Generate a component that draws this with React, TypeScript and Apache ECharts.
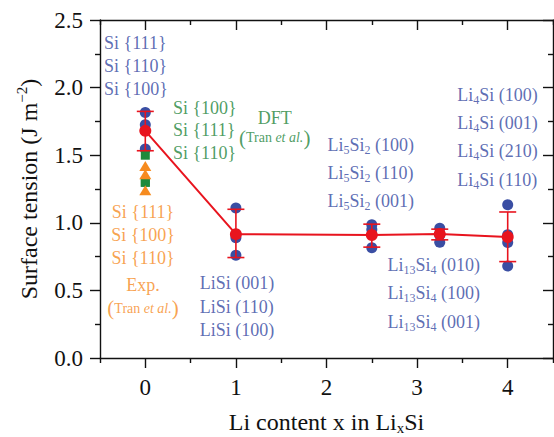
import React, { useEffect, useRef } from "react";
import * as echarts from "echarts";

const FONT = "Liberation Serif";
const BLUE = "#3a4ea3";
const BLUE_TEXT = "#34489f";
const RED = "#e8141e";
const GREEN = "#1f8a3c";
const GREEN_TEXT = "#22843a";
const ORANGE = "#f68b1f";
const AXIS = "#111111";

// Calculated facet surface tensions (J m^-2) per composition
const siFacets = [1.816, 1.726, 1.546]; // x = 0
const liSiFacets = [1.11, 0.89, 0.76]; // x = 1
const li5Si2Facets = [0.985, 0.95, 0.815]; // x = 2.5
const li13Si4Facets = [0.96, 0.91, 0.857]; // x = 3.25
const li4SiFacets = [1.133, 0.911, 0.854, 0.681]; // x = 4

// Averages with their spread
const compositions = [0, 1, 2.5, 3.25, 4];
const meanTension = [1.68, 0.916, 0.91, 0.918, 0.895];
const errLow = [1.533, 0.743, 0.82, 0.874, 0.713];
const errHigh = [1.824, 1.1, 0.99, 0.953, 1.08];

// Reference values for pure Si (Tran et al.)
const dftSi = [1.5, 1.3, 1.3];
const expSi = [1.42, 1.36, 1.24];

const xMajorTicks = [0, 1, 2, 3, 4];
const xMinorTicks = [-0.5, 0.5, 1.5, 2.5, 3.5, 4.5];

const tranRef = "{p|(}{t|Tran }{i|et al.}{p|)}";

const annotations = [
  { at: [-0.455, 2.163], align: "left", color: BLUE_TEXT, lineHeight: 23, text: ["Si {111}", "Si {110}", "Si {100}"] },
  { at: [0.305, 1.683], align: "left", color: GREEN_TEXT, lineHeight: 22.5, text: ["Si {100}", "Si {111}", "Si {110}"] },
  { at: [1.43, 1.775], align: "center", color: GREEN_TEXT, lineHeight: 22, text: ["DFT"] },
  { at: [1.428, 1.628], align: "center", color: GREEN_TEXT, lineHeight: 22, text: [tranRef] },
  { at: [-0.025, 0.911], align: "center", color: ORANGE, lineHeight: 23.3, text: ["Si {111}", "Si {100}", "Si {110}"] },
  { at: [-0.025, 0.456], align: "center", color: ORANGE, lineHeight: 23.5, text: ["Exp.", tranRef] },
  { at: [0.602, 0.38], align: "left", color: BLUE_TEXT, lineHeight: 23.3, text: ["LiSi (001)", "LiSi (110)", "LiSi (100)"] },
  { at: [2.012, 1.368], align: "left", color: BLUE_TEXT, lineHeight: 28, text: ["Li{s|5}Si{s|2} (100)", "Li{s|5}Si{s|2} (110)", "Li{s|5}Si{s|2} (001)"] },
  { at: [2.673, 0.479], align: "left", color: BLUE_TEXT, lineHeight: 28.3, text: ["Li{s|13}Si{s|4} (010)", "Li{s|13}Si{s|4} (100)", "Li{s|13}Si{s|4} (001)"] },
  { at: [3.444, 1.633], align: "left", color: BLUE_TEXT, lineHeight: 28.3, text: ["Li{s|4}Si (100)", "Li{s|4}Si (001)", "Li{s|4}Si (210)", "Li{s|4}Si (110)"] },
];

const at = (x: number, values: number[]) => values.map((v) => [x, v]);

export default function App() {
  const ref = useRef<HTMLDivElement>(null);

  useEffect(() => {
    if (!ref.current) return;
    const chart = echarts.init(ref.current, null, { renderer: "svg" });

    const gridRect = { left: 100, right: 1, top: 20, bottom: 79, containLabel: false, outerBoundsMode: "none" };
    const axisLine = { show: true, onZero: false, lineStyle: { color: AXIS, width: 1.4 } };
    const tickStyle = { color: AXIS, width: 1.4 };

    const richFor = (color: string) => ({
      s: { fontSize: 12, fontFamily: FONT, color, padding: [10, 0, 0, 0], lineHeight: 12 },
      p: { fontSize: 21, fontFamily: FONT, color },
      t: { fontSize: 14, fontFamily: FONT, color },
      i: { fontSize: 14, fontFamily: FONT, color, fontStyle: "italic" },
    });

    const blueFacets = [
      ...at(0, siFacets),
      ...at(1, liSiFacets),
      ...at(2.5, li5Si2Facets),
      ...at(3.25, li13Si4Facets),
      ...at(4, li4SiFacets),
    ];

    chart.setOption({
      animation: false,
      textStyle: { fontFamily: FONT },
      grid: [{ ...gridRect }, { ...gridRect }],
      xAxis: [
        {
          type: "value",
          gridIndex: 0,
          position: "bottom",
          min: -0.5,
          max: 4.5,
          axisLine,
          splitLine: { show: false },
          axisTick: { show: true, customValues: xMajorTicks, length: 10, lineStyle: tickStyle },
          axisLabel: { customValues: xMajorTicks, fontSize: 23, fontFamily: FONT, color: AXIS, margin: 17.5 },
          name: "Li content x in Li{sub|x}Si",
          nameLocation: "middle",
          nameGap: 52,
          nameTextStyle: {
            fontSize: 24,
            fontFamily: FONT,
            color: AXIS,
            rich: { sub: { fontSize: 15, fontFamily: FONT, color: AXIS, padding: [11, 0, 0, 0], lineHeight: 15 } },
          },
        },
        {
          type: "value",
          gridIndex: 0,
          position: "top",
          min: -0.5,
          max: 4.5,
          axisLine,
          splitLine: { show: false },
          axisTick: { show: true, inside: true, customValues: xMajorTicks, length: 10, lineStyle: tickStyle },
          axisLabel: { show: false, customValues: xMajorTicks },
        },
        {
          type: "value",
          gridIndex: 1,
          position: "bottom",
          min: -0.5,
          max: 4.5,
          axisLine: { show: false },
          splitLine: { show: false },
          axisTick: { show: true, customValues: xMinorTicks, length: 5, lineStyle: tickStyle },
          axisLabel: { show: false, customValues: xMinorTicks },
        },
        {
          type: "value",
          gridIndex: 1,
          position: "top",
          min: -0.5,
          max: 4.5,
          axisLine: { show: false },
          splitLine: { show: false },
          axisTick: { show: true, inside: true, customValues: xMinorTicks, length: 5, lineStyle: tickStyle },
          axisLabel: { show: false, customValues: xMinorTicks },
        },
      ],
      yAxis: [
        {
          type: "value",
          gridIndex: 0,
          position: "left",
          min: 0,
          max: 2.5,
          interval: 0.5,
          axisLine,
          splitLine: { show: false },
          axisTick: { show: true, length: 10, lineStyle: tickStyle },
          minorTick: { show: true, splitNumber: 2, length: 5, lineStyle: tickStyle },
          minorSplitLine: { show: false },
          axisLabel: {
            fontSize: 23,
            fontFamily: FONT,
            color: AXIS,
            margin: 17,
            formatter: (v: number) => v.toFixed(1),
          },
          name: "{n|Surface tension (J m}{sup|\u22122}{n|)}",
          nameLocation: "middle",
          nameGap: 59,
          nameTextStyle: {
            fontSize: 24,
            fontFamily: FONT,
            color: AXIS,
            rich: {
              n: { fontSize: 24, fontFamily: FONT, color: AXIS },
              sup: { fontSize: 15, fontFamily: FONT, color: AXIS, padding: [0, 0, 14, 0], lineHeight: 15 },
            },
          },
        },
        {
          type: "value",
          gridIndex: 0,
          position: "right",
          min: 0,
          max: 2.5,
          interval: 0.5,
          axisLine,
          splitLine: { show: false },
          axisTick: { show: true, inside: true, length: 10, lineStyle: tickStyle },
          minorTick: { show: true, splitNumber: 2, length: 5, lineStyle: tickStyle },
          minorSplitLine: { show: false },
          axisLabel: { show: false },
        },
        {
          type: "value",
          gridIndex: 1,
          min: 0,
          max: 2.5,
          show: false,
        },
      ],
      series: [
        {
          name: "Facets",
          type: "scatter",
          xAxisIndex: 0,
          yAxisIndex: 0,
          data: blueFacets,
          symbol: "circle",
          symbolSize: 11,
          itemStyle: { color: BLUE, opacity: 1 },
          z: 2,
        },
        {
          name: "DFT (Tran et al.)",
          type: "scatter",
          xAxisIndex: 0,
          yAxisIndex: 0,
          data: at(0, dftSi),
          symbol: "rect",
          symbolSize: 9,
          itemStyle: { color: GREEN, opacity: 1 },
          z: 2,
        },
        {
          name: "Exp. (Tran et al.)",
          type: "scatter",
          xAxisIndex: 0,
          yAxisIndex: 0,
          data: at(0, expSi),
          symbol: "triangle",
          symbolSize: [12, 10],
          itemStyle: { color: ORANGE, opacity: 1 },
          z: 3,
        },
        {
          name: "Spread",
          type: "custom",
          xAxisIndex: 0,
          yAxisIndex: 0,
          data: compositions.map((x, i) => [x, errLow[i], errHigh[i]]),
          encode: { x: 0, y: [1, 2] },
          z: 4,
          renderItem: (_params: any, api: any) => {
            const x = api.value(0);
            const lo = api.coord([x, api.value(1)]);
            const hi = api.coord([x, api.value(2)]);
            const hw = 8.5;
            const style = { stroke: RED, lineWidth: 1.6 };
            return {
              type: "group",
              children: [
                { type: "line", shape: { x1: lo[0], y1: lo[1], x2: hi[0], y2: hi[1] }, style },
                { type: "line", shape: { x1: lo[0] - hw, y1: lo[1], x2: lo[0] + hw, y2: lo[1] }, style },
                { type: "line", shape: { x1: hi[0] - hw, y1: hi[1], x2: hi[0] + hw, y2: hi[1] }, style },
              ],
            };
          },
        },
        {
          name: "Average",
          type: "line",
          xAxisIndex: 0,
          yAxisIndex: 0,
          data: compositions.map((x, i) => [x, meanTension[i]]),
          symbol: "circle",
          symbolSize: 12,
          showSymbol: true,
          itemStyle: { color: RED },
          lineStyle: { color: RED, width: 2 },
          z: 5,
        },
        {
          name: "Labels",
          type: "scatter",
          xAxisIndex: 0,
          yAxisIndex: 0,
          silent: true,
          symbolSize: 0,
          itemStyle: { color: "rgba(0,0,0,0)" },
          z: 6,
          data: annotations.map((a) => ({
            value: a.at,
            label: {
              show: true,
              position: [0, 0],
              align: a.align,
              verticalAlign: "middle",
              color: a.color,
              fontSize: 18,
              fontFamily: FONT,
              lineHeight: a.lineHeight,
              formatter: () => a.text.join("\n"),
              rich: richFor(a.color),
            },
          })),
        },
      ],
    });

    return () => chart.dispose();
  }, []);

  return (
    <div
      ref={ref}
      style={{ position: "absolute", left: 0, top: 0, width: 554, height: 437, background: "#ffffff" }}
    />
  );
}
